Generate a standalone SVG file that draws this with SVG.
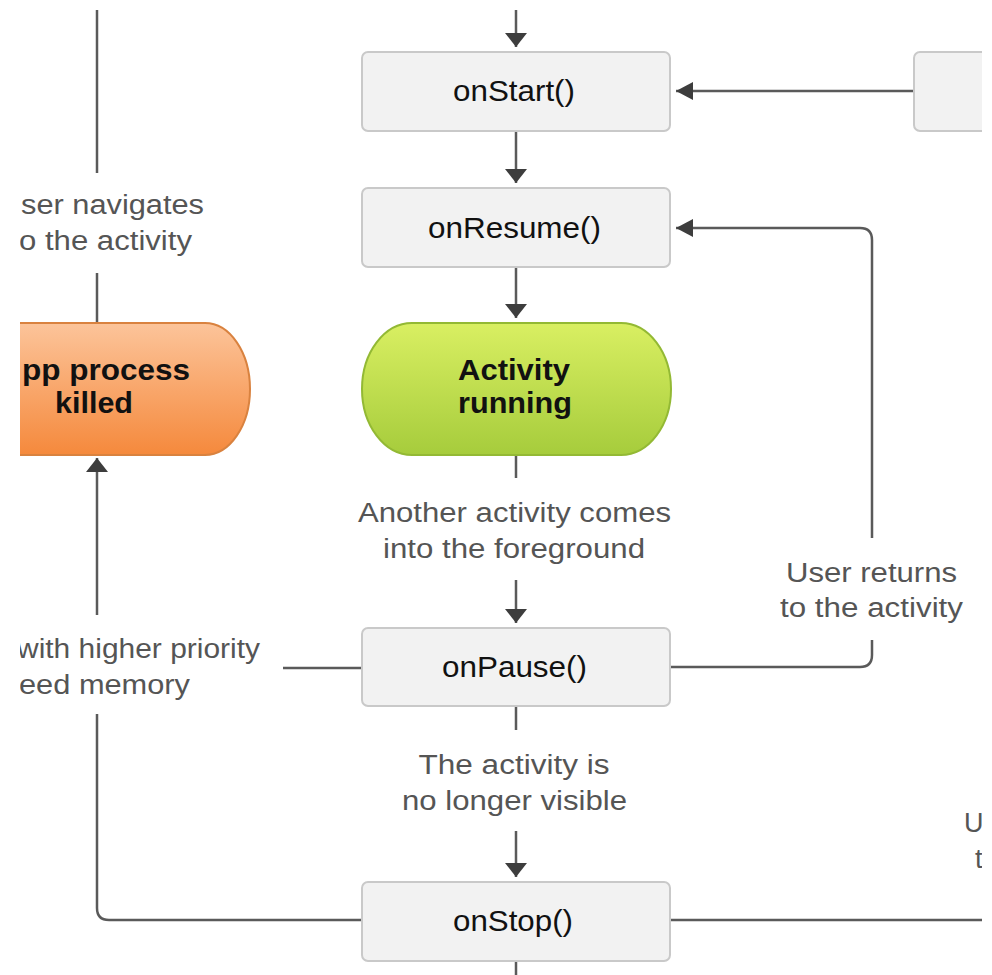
<svg xmlns="http://www.w3.org/2000/svg" width="992" height="975" viewBox="0 0 992 975">
<defs>
<style>
.box{fill:#f2f2f2;stroke:#c9c9c9;stroke-width:2}
.bt{font-family:"Liberation Sans",Arial,sans-serif;font-size:29px;fill:#111;text-anchor:middle}
.pt{font-family:"Liberation Sans",Arial,sans-serif;font-size:30px;font-weight:bold;fill:#111;text-anchor:middle}
.lb{font-family:"Liberation Sans",Arial,sans-serif;font-size:27px;fill:#555;text-anchor:middle}
.ls{font-family:"Liberation Sans",Arial,sans-serif;font-size:27px;fill:#555;text-anchor:start}
.ln{fill:none;stroke:#5a5a5a;stroke-width:2.5}
.av{marker-end:url(#arrV)}
.ah{marker-end:url(#arrH)}
</style>
<marker id="arrV" viewBox="0 0 14 22" refX="14" refY="11" markerWidth="14" markerHeight="22" markerUnits="userSpaceOnUse" orient="auto">
<path d="M0,0 L14,11 L0,22 z" fill="#3d3d3d"/>
</marker>
<marker id="arrH" viewBox="0 0 17 18" refX="17" refY="9" markerWidth="17" markerHeight="18" markerUnits="userSpaceOnUse" orient="auto">
<path d="M0,0 L17,9 L0,18 z" fill="#3d3d3d"/>
</marker>
<linearGradient id="gGreen" x1="0" y1="0" x2="0" y2="1">
<stop offset="0" stop-color="#d9ef62"/>
<stop offset="1" stop-color="#a6cc3c"/>
</linearGradient>
<linearGradient id="gOrange" x1="0" y1="0" x2="0" y2="1">
<stop offset="0" stop-color="#fcc49a"/>
<stop offset="1" stop-color="#f5893c"/>
</linearGradient>
<clipPath id="frame"><rect x="20" y="10" width="962" height="965"/></clipPath>
</defs>
<rect width="992" height="975" fill="#ffffff"/>
<g clip-path="url(#frame)">
<g id="connectors">
<path class="ln av" d="M516,10 V47"/>
<path class="ln av" d="M516,131 V183"/>
<path class="ln av" d="M516,267 V318"/>
<path class="ln" d="M516,455 V478"/>
<path class="ln av" d="M516,580 V623"/>
<path class="ln" d="M516,706 V730"/>
<path class="ln av" d="M516,831 V877"/>
<path class="ln" d="M516,961 V975"/>
<path class="ln ah" d="M914,91 H676"/>
<path class="ln" d="M670,667 H860 Q872,667 872,655 V640"/>
<path class="ln ah" d="M872,538 V240 Q872,228 860,228 H676"/>
<path class="ln" d="M362,920 H109 Q97,920 97,908 V714"/>
<path class="ln av" d="M97,615 V458"/>
<path class="ln" d="M362,668 H283"/>
<path class="ln" d="M670,920 H982"/>
<path class="ln" d="M97,10 V173"/>
<path class="ln" d="M97,273 V323"/>
</g>
<g id="onStart">
<rect class="box" x="362" y="52" width="308" height="79" rx="6"/>
<text class="bt" x="514" y="101" textLength="122" lengthAdjust="spacingAndGlyphs">onStart()</text>
</g>
<g id="rightBox">
<rect class="box" x="914" y="52" width="90" height="79" rx="6"/>
</g>
<g id="onResume">
<rect class="box" x="362" y="188" width="308" height="79" rx="6"/>
<text class="bt" x="514.5" y="238" textLength="173" lengthAdjust="spacingAndGlyphs">onResume()</text>
</g>
<g id="activityRunning">
<rect x="362" y="323" width="309" height="132" rx="50" ry="66" fill="url(#gGreen)" stroke="#93b934" stroke-width="2"/>
<text class="pt" x="514" y="380" textLength="112" lengthAdjust="spacingAndGlyphs">Activity</text>
<text class="pt" x="515" y="413" textLength="114" lengthAdjust="spacingAndGlyphs">running</text>
</g>
<g id="appKilled">
<rect x="-60" y="323" width="310" height="132" rx="45" ry="66" fill="url(#gOrange)" stroke="#d9823f" stroke-width="2"/>
<text class="pt" x="22" y="380" style="text-anchor:start" textLength="168" lengthAdjust="spacingAndGlyphs">pp process</text>
<text class="pt" x="94" y="413" textLength="78" lengthAdjust="spacingAndGlyphs">killed</text>
</g>
<g id="onPause">
<rect class="box" x="362" y="628" width="308" height="78" rx="6"/>
<text class="bt" x="514.5" y="677" textLength="145" lengthAdjust="spacingAndGlyphs">onPause()</text>
</g>
<g id="onStop">
<rect class="box" x="362" y="882" width="308" height="79" rx="6"/>
<text class="bt" x="513" y="931" textLength="120" lengthAdjust="spacingAndGlyphs">onStop()</text>
</g>
<g id="labels">
<text class="ls" x="21" y="214" textLength="183" lengthAdjust="spacingAndGlyphs">ser navigates</text>
<text class="ls" x="19" y="250" textLength="173" lengthAdjust="spacingAndGlyphs">o the activity</text>
<text class="lb" x="514.5" y="522" textLength="313" lengthAdjust="spacingAndGlyphs">Another activity comes</text>
<text class="lb" x="514" y="558" textLength="262" lengthAdjust="spacingAndGlyphs">into the foreground</text>
<text class="lb" x="871.5" y="582" textLength="171" lengthAdjust="spacingAndGlyphs">User returns</text>
<text class="lb" x="871.5" y="617" textLength="183" lengthAdjust="spacingAndGlyphs">to the activity</text>
<text class="ls" x="17" y="658" textLength="243" lengthAdjust="spacingAndGlyphs">with higher priority</text>
<text class="ls" x="19" y="694" textLength="171" lengthAdjust="spacingAndGlyphs">eed memory</text>
<text class="lb" x="514" y="774" textLength="191" lengthAdjust="spacingAndGlyphs">The activity is</text>
<text class="lb" x="514.5" y="810" textLength="225" lengthAdjust="spacingAndGlyphs">no longer visible</text>
<text class="ls" x="964" y="832">U</text>
<text class="ls" x="975" y="868">t</text>
</g>
</g>
</svg>
